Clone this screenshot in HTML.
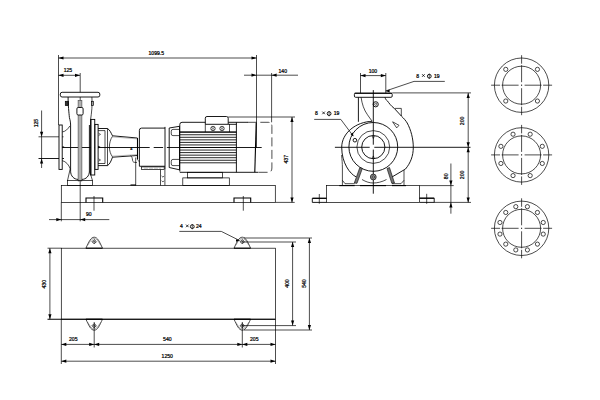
<!DOCTYPE html>
<html><head><meta charset="utf-8"><style>
html,body{margin:0;padding:0;background:#fff;width:600px;height:400px;overflow:hidden}
svg{display:block}
text{font-family:"Liberation Sans",sans-serif;font-weight:normal;stroke:#000;stroke-width:0.22px}
</style></head><body>
<svg width="600" height="400" viewBox="0 0 600 400">
<rect width="600" height="400" fill="#fff"/>
<line x1="58.5" y1="58" x2="256.5" y2="58" stroke="#000" stroke-width="0.7" />
<polygon points="58.50,58.00 63.50,56.40 63.50,59.60" fill="#000"/>
<polygon points="256.50,58.00 251.50,56.40 251.50,59.60" fill="#000"/>
<text x="148.5" y="55.2" font-size="5.1" text-anchor="start" fill="#000">1099.5</text>
<line x1="58.5" y1="55" x2="58.5" y2="125" stroke="#000" stroke-width="0.7" />
<line x1="256.5" y1="55" x2="256.5" y2="148" stroke="#000" stroke-width="0.7" />
<line x1="58.5" y1="75.3" x2="80" y2="75.3" stroke="#000" stroke-width="0.7" />
<polygon points="58.50,75.30 63.50,73.70 63.50,76.90" fill="#000"/>
<polygon points="80.00,75.30 75.00,73.70 75.00,76.90" fill="#000"/>
<text x="63.7" y="72.2" font-size="5.1" text-anchor="start" fill="#000">125</text>
<line x1="244" y1="75.2" x2="298" y2="75.2" stroke="#000" stroke-width="0.7" />
<polygon points="256.50,75.20 251.50,73.60 251.50,76.80" fill="#000"/>
<polygon points="271.60,75.20 276.60,73.60 276.60,76.80" fill="#000"/>
<text x="278.5" y="72.9" font-size="5.1" text-anchor="start" fill="#000">140</text>
<line x1="271.6" y1="73" x2="271.6" y2="122.3" stroke="#000" stroke-width="0.7" />
<line x1="41.6" y1="110.5" x2="41.6" y2="168" stroke="#000" stroke-width="0.7" />
<polygon points="41.60,136.80 40.00,131.80 43.20,131.80" fill="#000"/>
<polygon points="41.60,158.50 40.00,163.50 43.20,163.50" fill="#000"/>
<line x1="38.5" y1="136.8" x2="63.5" y2="136.8" stroke="#000" stroke-width="0.7" />
<line x1="38.5" y1="158.5" x2="64" y2="158.5" stroke="#000" stroke-width="0.9" />
<text x="0" y="0" transform="translate(37.6,127.3) rotate(-90)" font-size="5.1" text-anchor="start" fill="#000">125</text>
<line x1="80.2" y1="73" x2="80.2" y2="221.3" stroke="#000" stroke-width="0.7" />
<line x1="61.4" y1="147.5" x2="149.7" y2="147.5" stroke="#000" stroke-width="0.9" />
<line x1="153.7" y1="147.5" x2="163.1" y2="147.5" stroke="#000" stroke-width="0.9" />
<line x1="166.9" y1="147.5" x2="261.7" y2="147.5" stroke="#000" stroke-width="0.9" />
<rect x="60.3" y="92.3" width="39.5" height="4.7" rx="1.8" stroke="#000" stroke-width="0.9" fill="#fff" />
<rect x="65.3" y="101.3" width="3.2" height="4.3" rx="0" stroke="#000" stroke-width="0.7" fill="#333" />
<rect x="91.5" y="101.3" width="2.1" height="4.3" rx="0" stroke="#000" stroke-width="0.7" fill="none" />
<rect x="78.1" y="100.6" width="3.8" height="80.4" rx="0" stroke="#444" stroke-width="0.6" fill="#b0b0b0" />
<rect x="76.9" y="107.5" width="6.2" height="7.5" rx="1.3" stroke="#000" stroke-width="0.9" fill="#fff" />
<path d="M68.1,97 C68,105 69,113 69.4,117.5 C70,120 70.6,122 70.6,125 L70.6,171.2 C70.6,176 74,179.4 78.1,179.4" stroke="#000" stroke-width="0.9" fill="none" />
<path d="M89.4,125 L89.4,171.2 C89.4,176 86,179.4 81.9,179.4" stroke="#000" stroke-width="0.9" fill="none" />
<path d="M91.9,97 C92.5,105 91.6,113 90.6,119.4" stroke="#000" stroke-width="0.7" fill="none" />
<path d="M69.8,126 C68,129 65.5,131.5 62.2,132" stroke="#000" stroke-width="0.7" fill="none" />
<rect x="59" y="125" width="3.2" height="44.4" rx="0" stroke="#000" stroke-width="0.9" fill="#fff" />
<path d="M62.2,160.6 C66,161.5 69,165 70.2,168.8 L67.5,180.6" stroke="#000" stroke-width="0.7" fill="none" />
<path d="M89.6,171.2 L92.5,180.6" stroke="#000" stroke-width="0.7" fill="none" />
<rect x="67.5" y="180.6" width="25" height="4.8" rx="0" stroke="#000" stroke-width="0.7" fill="none" />
<rect x="90.6" y="119.4" width="4.15" height="55.6" rx="0" stroke="#000" stroke-width="0.9" fill="#fff" />
<line x1="91" y1="119.4" x2="91" y2="175" stroke="#000" stroke-width="0.9" />
<rect x="95" y="124.4" width="3.1" height="45" rx="0" stroke="#000" stroke-width="0.9" fill="#fff" />
<path d="M98.1,128.5 L107.5,128.5 C110,130 111,133 112.5,135.8 L137.4,138" stroke="#000" stroke-width="0.9" fill="none" />
<path d="M98.1,165.6 L107.5,165.6 C110,164 111,161 112.5,157.2 L137.4,155.5" stroke="#000" stroke-width="0.9" fill="none" />
<path d="M98.1,130.6 L105,130.6 M98.1,163.5 L105,163.5" stroke="#000" stroke-width="0.7" fill="none" />
<line x1="105" y1="130.6" x2="105" y2="163.5" stroke="#000" stroke-width="0.7" />
<line x1="107.5" y1="128.5" x2="107.5" y2="165.6" stroke="#000" stroke-width="0.7" />
<line x1="112.5" y1="136.9" x2="137.4" y2="138.9" stroke="#777" stroke-width="0.5" />
<line x1="112.5" y1="156.2" x2="137.4" y2="154.6" stroke="#777" stroke-width="0.5" />
<path d="M112.5,136.3 C110.5,139 109.4,143 109.4,146.9 C109.4,151 110.5,154 112.5,156.9" stroke="#000" stroke-width="0.7" fill="none" />
<path d="M98.6,133.20000000000002 L100.5,134.4 L98.6,135.6" stroke="#000" stroke-width="0.6" fill="none" />
<path d="M98.6,158.8 L100.5,160 L98.6,161.2" stroke="#000" stroke-width="0.6" fill="none" />
<polygon points="100.60,147.10 98.10,145.80 98.10,148.40" fill="#000"/>
<polygon points="64.50,147.10 62.50,145.90 62.50,148.30" fill="#000"/>
<line x1="137.5" y1="138" x2="137.5" y2="159.5" stroke="#000" stroke-width="1.1" />
<line x1="137.5" y1="159.5" x2="139.4" y2="162" stroke="#000" stroke-width="0.5" />
<text x="130.3" y="149.6" font-size="3.8" text-anchor="start" fill="#000">4</text>
<path d="M130.5,155.8 C132,156.5 132.3,158 132.6,160.5 C132.8,162 133.5,162.5 136.9,162.5" stroke="#000" stroke-width="0.7" fill="none" />
<path d="M165,128.1 L141.6,128.1 Q139.4,128.1 139.4,130.3 L139.4,166.25 L165,166.25" stroke="#000" stroke-width="0.9" fill="none" />
<line x1="165" y1="126.9" x2="165" y2="169.5" stroke="#000" stroke-width="0.9" />
<rect x="141.5" y="166.9" width="22.7" height="2.7" rx="0" stroke="#000" stroke-width="0.7" fill="none" />
<line x1="144" y1="168.2" x2="161" y2="168.2" stroke="#888" stroke-width="0.5" stroke-dasharray="4 1"/>
<line x1="135.7" y1="157.5" x2="135.7" y2="185.4" stroke="#000" stroke-width="0.7" />
<line x1="130.5" y1="185" x2="136" y2="185" stroke="#000" stroke-width="1.1" />
<line x1="160.5" y1="169.6" x2="160.5" y2="185.4" stroke="#000" stroke-width="0.7" />
<line x1="164.9" y1="169.6" x2="164.9" y2="185.4" stroke="#000" stroke-width="0.7" />
<path d="M161.5,175.89999999999998 L163,177.2 L164,175.89999999999998" stroke="#000" stroke-width="0.6" fill="none" />
<path d="M161.5,180.7 L163,182 L164,180.7" stroke="#000" stroke-width="0.6" fill="none" />
<path d="M169.2,128 L179.5,126.3 L179.5,169.8 L169.2,167.5 Z" stroke="#000" stroke-width="0.9" fill="none" />
<path d="M179.4,129.4 L173,129.4 Q171.25,129.4 171.25,131.2 L171.25,134 Q171.25,135.6 173,135.6 L179.4,135.6" stroke="#000" stroke-width="0.7" fill="none" />
<path d="M179.4,159.4 L173,159.4 Q171.25,159.4 171.25,161.2 L171.25,164 Q171.25,165.6 173,165.6 L179.4,165.6" stroke="#000" stroke-width="0.7" fill="none" />
<path d="M179.8,171.5 L179.8,124.5 Q179.8,122.3 182,122.3 L205.3,122.3 M228.3,122.3 L248,122.3" stroke="#000" stroke-width="0.9" fill="none" />
<line x1="179.8" y1="172.3" x2="258.3" y2="172.3" stroke="#000" stroke-width="0.9" />
<line x1="179.8" y1="132.2" x2="236.4" y2="132.2" stroke="#000" stroke-width="0.85" />
<line x1="179.8" y1="134.75" x2="236.4" y2="134.75" stroke="#000" stroke-width="0.85" />
<line x1="179.8" y1="137.3" x2="236.4" y2="137.3" stroke="#000" stroke-width="0.85" />
<line x1="179.8" y1="139.85" x2="236.4" y2="139.85" stroke="#000" stroke-width="0.85" />
<line x1="179.8" y1="142.4" x2="236.4" y2="142.4" stroke="#000" stroke-width="0.85" />
<line x1="179.8" y1="144.95" x2="236.4" y2="144.95" stroke="#000" stroke-width="0.85" />
<line x1="179.8" y1="147.5" x2="236.4" y2="147.5" stroke="#000" stroke-width="0.85" />
<line x1="179.8" y1="150.05" x2="236.4" y2="150.05" stroke="#000" stroke-width="0.85" />
<line x1="179.8" y1="152.6" x2="236.4" y2="152.6" stroke="#000" stroke-width="0.85" />
<line x1="179.8" y1="155.15" x2="236.4" y2="155.15" stroke="#000" stroke-width="0.85" />
<line x1="179.8" y1="157.7" x2="236.4" y2="157.7" stroke="#000" stroke-width="0.85" />
<line x1="179.8" y1="160.25" x2="236.4" y2="160.25" stroke="#000" stroke-width="0.85" />
<line x1="179.8" y1="162.8" x2="236.4" y2="162.8" stroke="#000" stroke-width="0.85" />
<line x1="179.8" y1="132" x2="236.4" y2="132" stroke="#000" stroke-width="1.1" />
<line x1="236.4" y1="122.3" x2="236.4" y2="172.3" stroke="#000" stroke-width="0.9" />
<path d="M205.3,124 L205.3,118.2 Q205.3,116.5 207,116.5 L226.5,116.5 Q228.2,116.5 228.2,118.2 L228.2,124" stroke="#000" stroke-width="0.9" fill="none" />
<line x1="205.3" y1="124.3" x2="236.4" y2="124.3" stroke="#000" stroke-width="0.9" />
<line x1="205.3" y1="124" x2="205.3" y2="132" stroke="#000" stroke-width="0.7" />
<line x1="229.5" y1="124" x2="229.5" y2="132" stroke="#000" stroke-width="0.7" />
<circle cx="213" cy="128.5" r="2.2" stroke="#000" stroke-width="0.7" fill="none" />
<line x1="211.5" y1="127" x2="214.5" y2="130" stroke="#000" stroke-width="0.5" />
<line x1="211.5" y1="130" x2="214.5" y2="127" stroke="#000" stroke-width="0.5" />
<circle cx="222" cy="128.5" r="2.2" stroke="#000" stroke-width="0.7" fill="none" />
<line x1="220.5" y1="127" x2="223.5" y2="130" stroke="#000" stroke-width="0.5" />
<line x1="220.5" y1="130" x2="223.5" y2="127" stroke="#000" stroke-width="0.5" />
<line x1="256.2" y1="122.8" x2="254.8" y2="172.3" stroke="#000" stroke-width="1.1" />
<path d="M247.8,122.3 L268,122.3 Q271.9,122.3 271.9,126.5 L271.9,168 Q271.9,172.3 268,172.3 L258.3,172.3" stroke="#000" stroke-width="0.7" fill="none" stroke-dasharray="9 3.5"/>
<rect x="187.6" y="172.3" width="34.9" height="5.6" rx="0" stroke="#000" stroke-width="0.7" fill="none" />
<rect x="182.8" y="177.9" width="46.5" height="7.5" rx="0" stroke="#000" stroke-width="0.7" fill="none" />
<line x1="228.2" y1="117" x2="295" y2="117" stroke="#000" stroke-width="0.7" />
<line x1="292" y1="117" x2="292" y2="202.4" stroke="#000" stroke-width="0.7" />
<polygon points="292.00,117.00 290.40,122.00 293.60,122.00" fill="#000"/>
<polygon points="292.00,202.40 290.40,197.40 293.60,197.40" fill="#000"/>
<text x="0" y="0" transform="translate(288.2,163.5) rotate(-90)" font-size="5.1" text-anchor="start" fill="#000">437</text>
<rect x="61.3" y="185.4" width="214" height="17" rx="0" stroke="#000" stroke-width="0.7" fill="none" />
<line x1="275.3" y1="202.4" x2="294.7" y2="202.4" stroke="#000" stroke-width="0.7" />
<line x1="61.3" y1="202.4" x2="61.3" y2="221.3" stroke="#000" stroke-width="0.7" />
<path d="M86,202.4 L86,198 L102.7,198 L102.7,202.4" stroke="#000" stroke-width="1.1" fill="none" />
<line x1="94" y1="196" x2="94" y2="210.7" stroke="#000" stroke-width="0.7" />
<path d="M234,202.4 L234,198 L250.7,198 L250.7,202.4" stroke="#000" stroke-width="1.1" fill="none" />
<line x1="243.3" y1="196" x2="243.3" y2="210.7" stroke="#000" stroke-width="0.7" />
<line x1="49" y1="219.6" x2="109.3" y2="219.6" stroke="#000" stroke-width="0.7" />
<polygon points="61.30,219.60 56.30,218.00 56.30,221.20" fill="#000"/>
<polygon points="80.20,219.60 85.20,218.00 85.20,221.20" fill="#000"/>
<text x="86" y="215.8" font-size="5.1" text-anchor="start" fill="#000">90</text>
<line x1="360.5" y1="75.6" x2="385.8" y2="75.6" stroke="#000" stroke-width="0.7" />
<polygon points="360.50,75.60 365.50,74.00 365.50,77.20" fill="#000"/>
<polygon points="385.80,75.60 380.80,74.00 380.80,77.20" fill="#000"/>
<text x="368.7" y="73" font-size="5.1" text-anchor="start" fill="#000">100</text>
<line x1="360.5" y1="73" x2="360.5" y2="93" stroke="#000" stroke-width="0.7" />
<line x1="385.8" y1="73" x2="385.8" y2="93" stroke="#000" stroke-width="0.7" />
<rect x="354.4" y="93.2" width="37.8" height="4.1" rx="1.2" stroke="#000" stroke-width="0.9" fill="#fff" />
<line x1="354.6" y1="93.3" x2="392" y2="93.3" stroke="#000" stroke-width="1.1" />
<line x1="392.2" y1="92.9" x2="471" y2="92.9" stroke="#000" stroke-width="0.7" />
<path d="M385.6,91 L414,81.4 L444.8,81.4" stroke="#000" stroke-width="0.7" fill="none" />
<polygon points="385.60,91.00 389.60,89.60 389.60,92.40" fill="#000"/>
<text x="416.2" y="77.9" font-size="5.1" text-anchor="start" fill="#000">8</text>
<line x1="422.1" y1="74.2" x2="424.7" y2="76.8" stroke="#000" stroke-width="0.8" />
<line x1="422.1" y1="76.8" x2="424.7" y2="74.2" stroke="#000" stroke-width="0.8" />
<circle cx="429.3" cy="76.2" r="1.9" stroke="#000" stroke-width="0.9" fill="none" />
<line x1="429.3" y1="73.6" x2="429.3" y2="78.9" stroke="#000" stroke-width="0.6" />
<text x="433.9" y="77.9" font-size="5.1" text-anchor="start" fill="#000">19</text>
<line x1="373.3" y1="90.1" x2="373.3" y2="144.7" stroke="#000" stroke-width="0.9" />
<line x1="373.3" y1="149.6" x2="373.3" y2="193.7" stroke="#000" stroke-width="0.9" />
<line x1="334.9" y1="147.3" x2="369.7" y2="147.3" stroke="#000" stroke-width="0.9" />
<line x1="374.3" y1="147.3" x2="470.5" y2="147.3" stroke="#000" stroke-width="0.9" />
<circle cx="375.7" cy="104.3" r="2.6" stroke="#000" stroke-width="0.9" fill="none" />
<circle cx="375.7" cy="104.3" r="1.1" stroke="#000" stroke-width="0.6" fill="none" />
<line x1="358.4" y1="97.3" x2="358.4" y2="121.8" stroke="#000" stroke-width="0.9" />
<path d="M361.1,97.3 C362,104 364,110 367.5,114.8 C369,117 370.5,119 372.2,121.3" stroke="#000" stroke-width="0.7" fill="none" />
<path d="M385,97.3 C385.5,99 386,100 387.3,100.8 C389,103 391,106 394.3,108.4 L401.3,116 C404,118.5 406,121 407.2,123 C411,130 413.3,139 413.3,147.3 C413.3,156 410.5,163 405.5,169 L392,177" stroke="#000" stroke-width="0.9" fill="none" />
<path d="M394.9,108.4 L401.3,108.4 L401.3,116" stroke="#000" stroke-width="0.7" fill="none" />
<path d="M392.6,121.8 L399,125.3 L396.7,127.9 Z" stroke="#000" stroke-width="0.7" fill="none" />
<path d="M372.2,121.3 C356,121.8 341.7,133 341.7,147.3 C341.7,163 350,174 356,176.8" stroke="#000" stroke-width="0.9" fill="none" />
<path d="M362,179.5 C366,182 370,183 373.3,183 C377,183 382,182 386.5,179.5" stroke="#000" stroke-width="0.7" fill="none" />
<circle cx="373.3" cy="146.9" r="24.4" stroke="#000" stroke-width="0.9" fill="none" />
<circle cx="373.3" cy="147" r="16.4" stroke="#000" stroke-width="0.7" fill="none" />
<circle cx="373.3" cy="147.1" r="11.6" stroke="#000" stroke-width="0.9" fill="none" />
<path d="M372.1,135.8 L373.3,138.5 L374.5,135.8" stroke="#000" stroke-width="0.6" fill="none" />
<path d="M372.1,158.60000000000002 L373.3,155.9 L374.5,158.60000000000002" stroke="#000" stroke-width="0.6" fill="none" />
<path d="M314.2,119.4 L340.8,119.4 L353.2,136" stroke="#000" stroke-width="0.7" fill="none" />
<polygon points="353.4,136.4 350.6,134.2 352.9,132.5" fill="#000"/>
<text x="314.9" y="115.3" font-size="5.1" text-anchor="start" fill="#000">8</text>
<line x1="322.3" y1="111.6" x2="324.9" y2="114.2" stroke="#000" stroke-width="0.8" />
<line x1="322.3" y1="114.2" x2="324.9" y2="111.6" stroke="#000" stroke-width="0.8" />
<circle cx="329.1" cy="113.6" r="1.9" stroke="#000" stroke-width="0.9" fill="none" />
<line x1="329.1" y1="111" x2="329.1" y2="116.3" stroke="#000" stroke-width="0.6" />
<text x="333.7" y="115.3" font-size="5.1" text-anchor="start" fill="#000">19</text>
<circle cx="354.9" cy="140.2" r="1.8" stroke="#000" stroke-width="0.9" fill="none" />
<path d="M354.3,183 L359.8,167.5 L362.3,168.6 L357,183.3 Z" stroke="#000" stroke-width="0.6" fill="#777" />
<path d="M387,168.6 L389.5,167.5 L394.5,183 L391.8,183.3 Z" stroke="#000" stroke-width="0.6" fill="#777" />
<circle cx="373.3" cy="177" r="2.9" stroke="#000" stroke-width="0.7" fill="#999" />
<circle cx="373.3" cy="177" r="1.3" stroke="#000" stroke-width="0.5" fill="none" />
<path d="M341.6,155 C342,160 342.4,163 342.4,168 L342.4,185.4" stroke="#000" stroke-width="0.7" fill="none" />
<line x1="404" y1="170" x2="404" y2="185.4" stroke="#000" stroke-width="0.7" />
<path d="M342.4,180.3 L345,183.7 L354.7,183.7 M392,183.7 L401,183.7 L404,180.3" stroke="#000" stroke-width="0.7" fill="none" />
<line x1="339.3" y1="185.6" x2="354.7" y2="185.6" stroke="#000" stroke-width="1.1" />
<line x1="360" y1="185.6" x2="386" y2="185.6" stroke="#000" stroke-width="1.1" />
<line x1="392" y1="185.6" x2="406" y2="185.6" stroke="#000" stroke-width="1.1" />
<rect x="326.5" y="185.6" width="93" height="16.8" rx="0" stroke="#000" stroke-width="0.7" fill="none" />
<path d="M326.5,198.3 L312.3,198.3 L312.3,202.4 L326.5,202.4" stroke="#000" stroke-width="0.9" fill="none" />
<line x1="312.5" y1="198.3" x2="326.5" y2="198.3" stroke="#000" stroke-width="1.1" />
<line x1="319.3" y1="194" x2="319.3" y2="203.7" stroke="#000" stroke-width="0.7" />
<path d="M419.5,198.2 L434.2,198.2 L434.2,202.4 L419.5,202.4" stroke="#000" stroke-width="0.9" fill="none" />
<line x1="419.5" y1="198.2" x2="434.2" y2="198.2" stroke="#000" stroke-width="1.1" />
<line x1="426.7" y1="193.8" x2="426.7" y2="203.8" stroke="#000" stroke-width="0.7" />
<line x1="434" y1="202.4" x2="471" y2="202.4" stroke="#000" stroke-width="0.7" />
<line x1="419.5" y1="185.6" x2="453.7" y2="185.6" stroke="#000" stroke-width="0.7" />
<line x1="450.9" y1="163.5" x2="450.9" y2="213.7" stroke="#000" stroke-width="0.7" />
<polygon points="450.90,185.60 449.30,180.60 452.50,180.60" fill="#000"/>
<polygon points="450.90,202.40 449.30,207.40 452.50,207.40" fill="#000"/>
<text x="0" y="0" transform="translate(447.5,179.2) rotate(-90)" font-size="5.1" text-anchor="start" fill="#000">80</text>
<line x1="468.2" y1="92.9" x2="468.2" y2="202.4" stroke="#000" stroke-width="0.7" />
<polygon points="468.20,92.90 466.60,97.90 469.80,97.90" fill="#000"/>
<polygon points="468.20,147.30 466.60,142.30 469.80,142.30" fill="#000"/>
<polygon points="468.20,147.30 466.60,152.30 469.80,152.30" fill="#000"/>
<polygon points="468.20,202.40 466.60,197.40 469.80,197.40" fill="#000"/>
<text x="0" y="0" transform="translate(464.2,125.2) rotate(-90)" font-size="5.1" text-anchor="start" fill="#000">200</text>
<text x="0" y="0" transform="translate(464.2,179.2) rotate(-90)" font-size="5.1" text-anchor="start" fill="#000">200</text>
<circle cx="521.6" cy="85.2" r="27.2" stroke="#000" stroke-width="0.7" fill="none" />
<circle cx="521.6" cy="85.2" r="19" stroke="#000" stroke-width="0.7" fill="none" />
<line x1="521.1" y1="85.2" x2="522.1" y2="85.2" stroke="#000" stroke-width="0.7" />
<line x1="524.6" y1="85.2" x2="541.6" y2="85.2" stroke="#000" stroke-width="0.7" />
<line x1="543.1" y1="85.2" x2="552.1" y2="85.2" stroke="#000" stroke-width="0.7" />
<line x1="501.6" y1="85.2" x2="518.6" y2="85.2" stroke="#000" stroke-width="0.7" />
<line x1="491.1" y1="85.2" x2="500.1" y2="85.2" stroke="#000" stroke-width="0.7" />
<line x1="521.6" y1="84.7" x2="521.6" y2="85.7" stroke="#000" stroke-width="0.7" />
<line x1="521.6" y1="88.2" x2="521.6" y2="105.2" stroke="#000" stroke-width="0.7" />
<line x1="521.6" y1="106.7" x2="521.6" y2="115.2" stroke="#000" stroke-width="0.7" />
<line x1="521.6" y1="65.2" x2="521.6" y2="82.2" stroke="#000" stroke-width="0.7" />
<line x1="521.6" y1="55.2" x2="521.6" y2="63.7" stroke="#000" stroke-width="0.7" />
<circle cx="537.44" cy="69.36" r="2.1" stroke="#000" stroke-width="0.7" fill="none" />
<circle cx="537.44" cy="101.04" r="2.1" stroke="#000" stroke-width="0.7" fill="none" />
<circle cx="505.76" cy="101.04" r="2.1" stroke="#000" stroke-width="0.7" fill="none" />
<circle cx="505.76" cy="69.36" r="2.1" stroke="#000" stroke-width="0.7" fill="none" />
<circle cx="521.6" cy="154.9" r="27.2" stroke="#000" stroke-width="0.7" fill="none" />
<circle cx="521.6" cy="154.9" r="19" stroke="#000" stroke-width="0.7" fill="none" />
<line x1="521.1" y1="154.9" x2="522.1" y2="154.9" stroke="#000" stroke-width="0.7" />
<line x1="524.6" y1="154.9" x2="541.6" y2="154.9" stroke="#000" stroke-width="0.7" />
<line x1="543.1" y1="154.9" x2="552.1" y2="154.9" stroke="#000" stroke-width="0.7" />
<line x1="501.6" y1="154.9" x2="518.6" y2="154.9" stroke="#000" stroke-width="0.7" />
<line x1="491.1" y1="154.9" x2="500.1" y2="154.9" stroke="#000" stroke-width="0.7" />
<line x1="521.6" y1="154.4" x2="521.6" y2="155.4" stroke="#000" stroke-width="0.7" />
<line x1="521.6" y1="157.9" x2="521.6" y2="174.9" stroke="#000" stroke-width="0.7" />
<line x1="521.6" y1="176.4" x2="521.6" y2="184.9" stroke="#000" stroke-width="0.7" />
<line x1="521.6" y1="134.9" x2="521.6" y2="151.9" stroke="#000" stroke-width="0.7" />
<line x1="521.6" y1="124.9" x2="521.6" y2="133.4" stroke="#000" stroke-width="0.7" />
<circle cx="530.17" cy="134.21" r="2.1" stroke="#000" stroke-width="0.7" fill="none" />
<circle cx="542.29" cy="146.33" r="2.1" stroke="#000" stroke-width="0.7" fill="none" />
<circle cx="542.29" cy="163.47" r="2.1" stroke="#000" stroke-width="0.7" fill="none" />
<circle cx="530.17" cy="175.59" r="2.1" stroke="#000" stroke-width="0.7" fill="none" />
<circle cx="513.03" cy="175.59" r="2.1" stroke="#000" stroke-width="0.7" fill="none" />
<circle cx="500.91" cy="163.47" r="2.1" stroke="#000" stroke-width="0.7" fill="none" />
<circle cx="500.91" cy="146.33" r="2.1" stroke="#000" stroke-width="0.7" fill="none" />
<circle cx="513.03" cy="134.21" r="2.1" stroke="#000" stroke-width="0.7" fill="none" />
<circle cx="521.6" cy="228.3" r="27.2" stroke="#000" stroke-width="0.7" fill="none" />
<circle cx="521.6" cy="228.3" r="19" stroke="#000" stroke-width="0.7" fill="none" />
<line x1="521.1" y1="228.3" x2="522.1" y2="228.3" stroke="#000" stroke-width="0.7" />
<line x1="524.6" y1="228.3" x2="541.6" y2="228.3" stroke="#000" stroke-width="0.7" />
<line x1="543.1" y1="228.3" x2="552.1" y2="228.3" stroke="#000" stroke-width="0.7" />
<line x1="501.6" y1="228.3" x2="518.6" y2="228.3" stroke="#000" stroke-width="0.7" />
<line x1="491.1" y1="228.3" x2="500.1" y2="228.3" stroke="#000" stroke-width="0.7" />
<line x1="521.6" y1="227.8" x2="521.6" y2="228.8" stroke="#000" stroke-width="0.7" />
<line x1="521.6" y1="231.3" x2="521.6" y2="248.3" stroke="#000" stroke-width="0.7" />
<line x1="521.6" y1="249.8" x2="521.6" y2="258.3" stroke="#000" stroke-width="0.7" />
<line x1="521.6" y1="208.3" x2="521.6" y2="225.3" stroke="#000" stroke-width="0.7" />
<line x1="521.6" y1="198.3" x2="521.6" y2="206.8" stroke="#000" stroke-width="0.7" />
<circle cx="527.4" cy="206.66" r="2.1" stroke="#000" stroke-width="0.7" fill="none" />
<circle cx="537.44" cy="212.46" r="2.1" stroke="#000" stroke-width="0.7" fill="none" />
<circle cx="543.24" cy="222.5" r="2.1" stroke="#000" stroke-width="0.7" fill="none" />
<circle cx="543.24" cy="234.1" r="2.1" stroke="#000" stroke-width="0.7" fill="none" />
<circle cx="537.44" cy="244.14" r="2.1" stroke="#000" stroke-width="0.7" fill="none" />
<circle cx="527.4" cy="249.94" r="2.1" stroke="#000" stroke-width="0.7" fill="none" />
<circle cx="515.8" cy="249.94" r="2.1" stroke="#000" stroke-width="0.7" fill="none" />
<circle cx="505.76" cy="244.14" r="2.1" stroke="#000" stroke-width="0.7" fill="none" />
<circle cx="499.96" cy="234.1" r="2.1" stroke="#000" stroke-width="0.7" fill="none" />
<circle cx="499.96" cy="222.5" r="2.1" stroke="#000" stroke-width="0.7" fill="none" />
<circle cx="505.76" cy="212.46" r="2.1" stroke="#000" stroke-width="0.7" fill="none" />
<circle cx="515.8" cy="206.66" r="2.1" stroke="#000" stroke-width="0.7" fill="none" />
<rect x="61.3" y="248.2" width="214.2" height="71" rx="0" stroke="#000" stroke-width="0.7" fill="none" />
<line x1="47.5" y1="319.2" x2="275.5" y2="319.2" stroke="#000" stroke-width="1.1" />
<path d="M85.9,248.2 C88.7,242.2 90.7,237.2 94.2,237.2 C97.7,237.2 99.7,242.2 102.5,248.2" stroke="#000" stroke-width="0.7" fill="none" />
<path d="M87.7,245.2 C90.2,241.2 91.7,238.5 94.2,238.5 C96.7,238.5 98.2,241.2 100.7,245.2" stroke="#555" stroke-width="0.5" fill="none" />
<path d="M94.2,239.5 L96.4,241.7 L94.2,243.9 L92,241.7 Z" stroke="#000" stroke-width="0.7" fill="none" />
<line x1="92.7" y1="241.7" x2="95.7" y2="241.7" stroke="#000" stroke-width="0.5" />
<line x1="94.2" y1="240.2" x2="94.2" y2="243.2" stroke="#000" stroke-width="0.5" />
<line x1="85.9" y1="248.2" x2="102.5" y2="248.2" stroke="#000" stroke-width="1.1" />
<path d="M85.9,319.2 C88.7,325.2 90.7,330.2 94.2,330.2 C97.7,330.2 99.7,325.2 102.5,319.2" stroke="#000" stroke-width="0.7" fill="none" />
<path d="M87.7,322.2 C90.2,326.2 91.7,328.9 94.2,328.9 C96.7,328.9 98.2,326.2 100.7,322.2" stroke="#555" stroke-width="0.5" fill="none" />
<path d="M94.2,323.5 L96.4,325.7 L94.2,327.9 L92,325.7 Z" stroke="#000" stroke-width="0.7" fill="none" />
<line x1="92.7" y1="325.7" x2="95.7" y2="325.7" stroke="#000" stroke-width="0.5" />
<line x1="94.2" y1="324.2" x2="94.2" y2="327.2" stroke="#000" stroke-width="0.5" />
<line x1="85.9" y1="319.2" x2="102.5" y2="319.2" stroke="#000" stroke-width="1.1" />
<path d="M234,248.2 C236.8,242.2 238.8,237.2 242.3,237.2 C245.8,237.2 247.8,242.2 250.6,248.2" stroke="#000" stroke-width="0.7" fill="none" />
<path d="M235.8,245.2 C238.3,241.2 239.8,238.5 242.3,238.5 C244.8,238.5 246.3,241.2 248.8,245.2" stroke="#555" stroke-width="0.5" fill="none" />
<path d="M242.3,239.5 L244.5,241.7 L242.3,243.9 L240.1,241.7 Z" stroke="#000" stroke-width="0.7" fill="none" />
<line x1="240.8" y1="241.7" x2="243.8" y2="241.7" stroke="#000" stroke-width="0.5" />
<line x1="242.3" y1="240.2" x2="242.3" y2="243.2" stroke="#000" stroke-width="0.5" />
<line x1="234" y1="248.2" x2="250.6" y2="248.2" stroke="#000" stroke-width="1.1" />
<path d="M234,319.2 C236.8,325.2 238.8,330.2 242.3,330.2 C245.8,330.2 247.8,325.2 250.6,319.2" stroke="#000" stroke-width="0.7" fill="none" />
<path d="M235.8,322.2 C238.3,326.2 239.8,328.9 242.3,328.9 C244.8,328.9 246.3,326.2 248.8,322.2" stroke="#555" stroke-width="0.5" fill="none" />
<path d="M242.3,323.5 L244.5,325.7 L242.3,327.9 L240.1,325.7 Z" stroke="#000" stroke-width="0.7" fill="none" />
<line x1="240.8" y1="325.7" x2="243.8" y2="325.7" stroke="#000" stroke-width="0.5" />
<line x1="242.3" y1="324.2" x2="242.3" y2="327.2" stroke="#000" stroke-width="0.5" />
<line x1="234" y1="319.2" x2="250.6" y2="319.2" stroke="#000" stroke-width="1.1" />
<line x1="47.5" y1="248.2" x2="61.3" y2="248.2" stroke="#000" stroke-width="0.7" />
<line x1="49.9" y1="248.2" x2="49.9" y2="319.2" stroke="#000" stroke-width="0.7" />
<polygon points="49.90,248.20 48.30,253.20 51.50,253.20" fill="#000"/>
<polygon points="49.90,319.20 48.30,314.20 51.50,314.20" fill="#000"/>
<text x="0" y="0" transform="translate(46.3,288.5) rotate(-90)" font-size="5.1" text-anchor="start" fill="#000">430</text>
<path d="M179.3,231.4 L221.3,231.4 L239.5,240.5" stroke="#000" stroke-width="0.7" fill="none" />
<polygon points="239.50,240.50 236.00,239.20 236.00,241.80" fill="#000"/>
<text x="180" y="228.3" font-size="5.1" text-anchor="start" fill="#000">4</text>
<line x1="186" y1="224.6" x2="188.6" y2="227.2" stroke="#000" stroke-width="0.8" />
<line x1="186" y1="227.2" x2="188.6" y2="224.6" stroke="#000" stroke-width="0.8" />
<circle cx="192.3" cy="226.6" r="1.9" stroke="#000" stroke-width="0.9" fill="none" />
<line x1="192.3" y1="224" x2="192.3" y2="229.3" stroke="#000" stroke-width="0.6" />
<text x="196" y="228.3" font-size="5.1" text-anchor="start" fill="#000">24</text>
<line x1="242.3" y1="242" x2="296" y2="242" stroke="#000" stroke-width="0.7" />
<line x1="242.3" y1="325.6" x2="296" y2="325.6" stroke="#000" stroke-width="0.7" />
<line x1="244" y1="238" x2="312" y2="238" stroke="#000" stroke-width="0.7" />
<line x1="244" y1="330" x2="312" y2="330" stroke="#000" stroke-width="0.7" />
<line x1="292.6" y1="242" x2="292.6" y2="325.6" stroke="#000" stroke-width="0.7" />
<polygon points="292.60,242.00 291.00,247.00 294.20,247.00" fill="#000"/>
<polygon points="292.60,325.60 291.00,320.60 294.20,320.60" fill="#000"/>
<line x1="309.4" y1="238" x2="309.4" y2="330" stroke="#000" stroke-width="0.7" />
<polygon points="309.40,238.00 307.80,243.00 311.00,243.00" fill="#000"/>
<polygon points="309.40,330.00 307.80,325.00 311.00,325.00" fill="#000"/>
<text x="0" y="0" transform="translate(288.6,287.8) rotate(-90)" font-size="5.1" text-anchor="start" fill="#000">400</text>
<text x="0" y="0" transform="translate(305.9,287.8) rotate(-90)" font-size="5.1" text-anchor="start" fill="#000">540</text>
<line x1="61.3" y1="319.2" x2="61.3" y2="364" stroke="#000" stroke-width="0.7" />
<line x1="275.5" y1="319.2" x2="275.5" y2="364" stroke="#000" stroke-width="0.7" />
<line x1="94.2" y1="322" x2="94.2" y2="347.5" stroke="#000" stroke-width="0.7" />
<line x1="242.3" y1="322" x2="242.3" y2="347.5" stroke="#000" stroke-width="0.7" />
<line x1="61.3" y1="344.4" x2="275.5" y2="344.4" stroke="#000" stroke-width="0.7" />
<polygon points="61.30,344.40 66.30,342.80 66.30,346.00" fill="#000"/>
<polygon points="94.20,344.40 89.20,342.80 89.20,346.00" fill="#000"/>
<polygon points="94.20,344.40 99.20,342.80 99.20,346.00" fill="#000"/>
<polygon points="242.30,344.40 237.30,342.80 237.30,346.00" fill="#000"/>
<polygon points="242.30,344.40 247.30,342.80 247.30,346.00" fill="#000"/>
<polygon points="275.50,344.40 270.50,342.80 270.50,346.00" fill="#000"/>
<text x="69" y="341" font-size="5.1" text-anchor="start" fill="#000">205</text>
<text x="163.1" y="340.9" font-size="5.1" text-anchor="start" fill="#000">540</text>
<text x="250" y="341" font-size="5.1" text-anchor="start" fill="#000">205</text>
<line x1="61.3" y1="361.2" x2="275.5" y2="361.2" stroke="#000" stroke-width="0.7" />
<polygon points="61.30,361.20 66.30,359.60 66.30,362.80" fill="#000"/>
<polygon points="275.50,361.20 270.50,359.60 270.50,362.80" fill="#000"/>
<text x="161.6" y="358.2" font-size="5.1" text-anchor="start" fill="#000">1250</text>
</svg>
</body></html>
